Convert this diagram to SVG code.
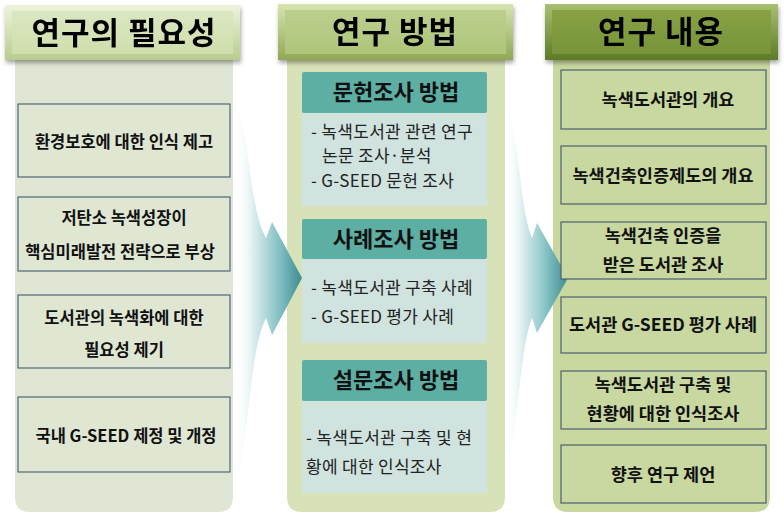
<svg xmlns="http://www.w3.org/2000/svg" width="784" height="517" viewBox="0 0 784 517">
<defs>
<linearGradient id="h1o" x1="0" y1="0" x2="0" y2="1"><stop offset="0" stop-color="#eef4dc"/><stop offset="1" stop-color="#b9cc8f"/></linearGradient>
<linearGradient id="h1i" x1="0" y1="0" x2="0" y2="1"><stop offset="0" stop-color="#dbe7c2"/><stop offset="1" stop-color="#cfdeac"/></linearGradient>
<linearGradient id="h2o" x1="0" y1="0" x2="0" y2="1"><stop offset="0" stop-color="#d8e4b0"/><stop offset="1" stop-color="#8fa856"/></linearGradient>
<linearGradient id="h2i" x1="0" y1="0" x2="0" y2="1"><stop offset="0" stop-color="#bccf8e"/><stop offset="1" stop-color="#aec57a"/></linearGradient>
<linearGradient id="h3o" x1="0" y1="0" x2="0" y2="1"><stop offset="0" stop-color="#a9c070"/><stop offset="1" stop-color="#5d7a26"/></linearGradient>
<linearGradient id="h3i" x1="0" y1="0" x2="0" y2="1"><stop offset="0" stop-color="#86a244"/><stop offset="1" stop-color="#789438"/></linearGradient>
<linearGradient id="arr" x1="0" y1="0" x2="1" y2="0"><stop offset="0" stop-color="#ffffff" stop-opacity="0"/><stop offset="0.25" stop-color="#e2f1f2"/><stop offset="0.65" stop-color="#86c2c5"/><stop offset="1" stop-color="#3c8c91"/></linearGradient>
<filter id="sh" x="-10%" y="-20%" width="120%" height="150%"><feDropShadow dx="1" dy="3" stdDeviation="2" flood-color="#000" flood-opacity="0.35"/></filter>
</defs>
<style>
.hd{font-family:"Noto Sans CJK KR","Noto Sans",sans-serif;font-size:31px;letter-spacing:1px;font-weight:bold;fill:#000;text-anchor:middle}
.bt{font-family:"Noto Sans CJK KR","Noto Sans",sans-serif;font-size:16.5px;font-weight:bold;fill:#111;text-anchor:middle}
.bt3{font-family:"Noto Sans CJK KR","Noto Sans",sans-serif;font-size:17.5px;font-weight:bold;fill:#111;text-anchor:middle}
.st{font-family:"Noto Sans CJK KR","Noto Sans",sans-serif;font-size:22px;font-weight:bold;fill:#111;text-anchor:middle}
.ct{font-family:"Noto Sans CJK KR","Noto Sans",sans-serif;font-size:17px;letter-spacing:0.3px;fill:#222}
.b1{fill:#dfe7d3;stroke:#52667a;stroke-width:1.2}
.b3{fill:#c8d8a0;stroke:#4c6070;stroke-width:1.2}
</style>
<rect width="784" height="517" fill="#ffffff"/>

<g id="panels">
<path d="M15,55 H233 V497 Q233,512 218,512 H30 Q15,512 15,497 Z" fill="#dfe6d3"/>
<path d="M287,55 H505 V497 Q505,512 490,512 H302 Q287,512 287,497 Z" fill="#d8e2b8"/>
<path d="M553,55 H770 V497 Q770,512 755,512 H568 Q553,512 553,497 Z" fill="#c8d89f"/>
</g>

<g id="connectors">
<path d="M235,95 C250,140 250,210 266,238 L272,222 L302,278 L272,335 L266,318 C250,348 250,430 235,495 Z" fill="url(#arr)"/>
<path d="M505,97 C520,140 520,210 532,238 L537,223 L568,278 L537,333 L532,318 C520,348 520,420 505,470 Z" fill="url(#arr)"/>
</g>

<g id="header1" filter="url(#sh)">
<rect x="5" y="5" width="235" height="55" fill="url(#h1o)"/>
<rect x="12" y="11" width="221" height="43" fill="url(#h1i)"/>
<text class="hd" x="124" y="44">연구의 필요성</text>
</g>
<g id="header2" filter="url(#sh)">
<rect x="278" y="4" width="235" height="56" fill="url(#h2o)"/>
<rect x="285" y="10" width="221" height="44" fill="url(#h2i)"/>
<text class="hd" x="395" y="43">연구 방법</text>
</g>
<g id="header3" filter="url(#sh)">
<rect x="545" y="4" width="233" height="56" fill="url(#h3o)"/>
<rect x="552" y="10" width="219" height="44" fill="url(#h3i)"/>
<text class="hd" x="661" y="43">연구 내용</text>
</g>

<g id="n1a"><rect class="b1" x="18" y="104" width="212" height="73"/><text class="bt" x="124" y="148">환경보호에 대한 인식 제고</text></g>
<g id="n1b"><rect class="b1" x="18" y="197" width="212" height="74"/><text class="bt" x="124" y="224">저탄소 녹색성장이</text><text class="bt" x="120" y="258">핵심미래발전 전략으로 부상</text></g>
<g id="n1c"><rect class="b1" x="18" y="295" width="212" height="73"/><text class="bt" x="124" y="324">도서관의 녹색화에 대한</text><text class="bt" x="124" y="356">필요성 제기</text></g>
<g id="n1d"><rect class="b1" x="18" y="397" width="212" height="75"/><text class="bt" x="126" y="442">국내 G-SEED 제정 및 개정</text></g>

<g id="n2a">
<rect x="302" y="72" width="185" height="41" fill="#5dafa4" rx="2"/>
<rect x="302" y="113" width="185" height="93" fill="#d0e3df"/>
<text class="st" x="396" y="100">문헌조사 방법</text>
<text class="ct" x="311" y="138">- 녹색도서관 관련 연구</text>
<text class="ct" x="322" y="162">논문 조사·분석</text>
<text class="ct" x="311" y="187">- G-SEED 문헌 조사</text>
</g>
<g id="n2b">
<rect x="302" y="219" width="185" height="40" fill="#5dafa4" rx="2"/>
<rect x="302" y="259" width="185" height="84" fill="#d0e3df"/>
<text class="st" x="396" y="247">사례조사 방법</text>
<text class="ct" x="311" y="294">- 녹색도서관 구축 사례</text>
<text class="ct" x="311" y="323">- G-SEED 평가 사례</text>
</g>
<g id="n2c">
<rect x="302" y="360" width="185" height="41" fill="#5dafa4" rx="2"/>
<rect x="302" y="401" width="185" height="92" fill="#d0e3df"/>
<text class="st" x="396" y="388">설문조사 방법</text>
<text class="ct" x="306" y="444">- 녹색도서관 구축 및 현</text>
<text class="ct" x="306" y="473">황에 대한 인식조사</text>
</g>

<g id="n3a"><rect class="b3" x="561" y="70" width="205" height="59"/><text class="bt3" x="668" y="106">녹색도서관의 개요</text></g>
<g id="n3b"><rect class="b3" x="561" y="146" width="205" height="58"/><text class="bt3" x="663" y="182">녹색건축인증제도의 개요</text></g>
<g id="n3c"><rect class="b3" x="561" y="222" width="205" height="57"/><text class="bt3" x="663" y="242">녹색건축 인증을</text><text class="bt3" x="663" y="271">받은 도서관 조사</text></g>
<g id="n3d"><rect class="b3" x="561" y="297" width="205" height="56"/><text class="bt3" x="663" y="331">도서관 G-SEED 평가 사례</text></g>
<g id="n3e"><rect class="b3" x="561" y="371" width="205" height="58"/><text class="bt3" x="663" y="391">녹색도서관 구축 및</text><text class="bt3" x="663" y="420">현황에 대한 인식조사</text></g>
<g id="n3f"><rect class="b3" x="561" y="445" width="205" height="58"/><text class="bt3" x="663" y="481">향후 연구 제언</text></g>
</svg>
